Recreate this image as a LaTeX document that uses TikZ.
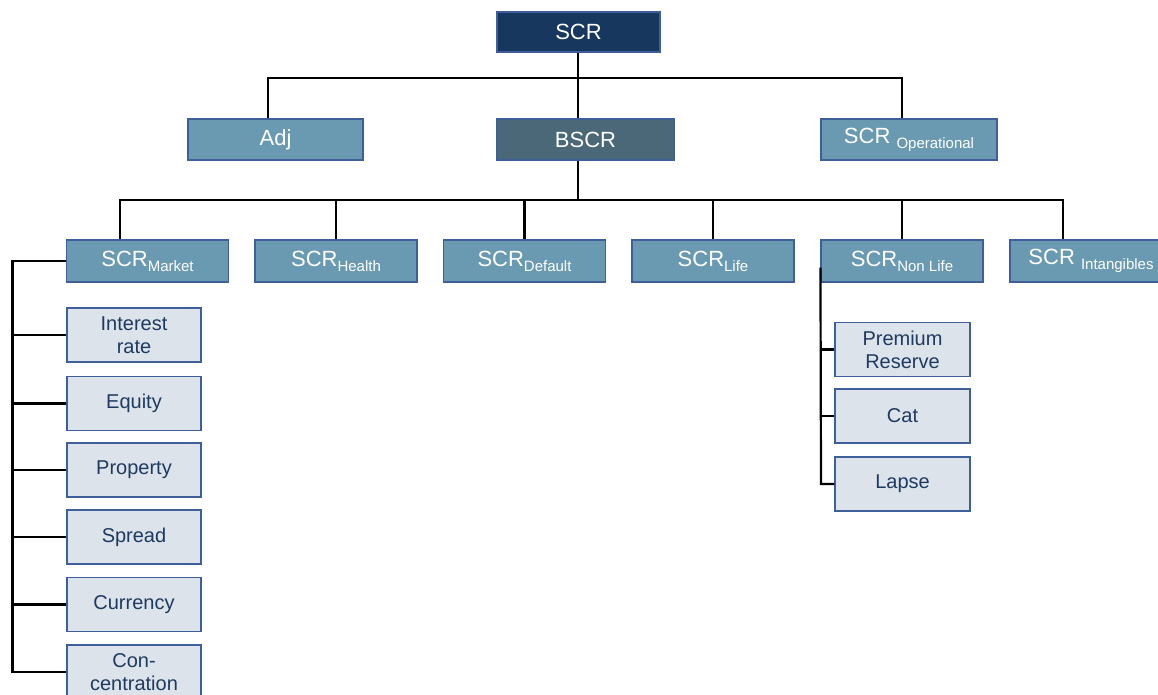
\documentclass[tikz,border=0pt]{standalone}
\usepackage{fontspec}
\setmainfont{Liberation Sans}
\definecolor{navy}{HTML}{17375E}
\definecolor{slate}{HTML}{4B6878}
\definecolor{midblue}{HTML}{6A9AB1}
\definecolor{lightbox}{HTML}{DCE3EA}
\definecolor{edge}{HTML}{3F5F9A}
\definecolor{darktext}{HTML}{1F3A60}
\newcommand{\subtx}[1]{\raisebox{-5pt}{\fontsize{15}{15}\selectfont #1}}
\tikzset{
  box/.style={draw=edge, line width=1.1pt, inner sep=0pt, text=white,
    font=\fontsize{22}{24}\selectfont, minimum height=41pt, minimum width=162pt},
  subbox/.style={draw=edge, line width=1.1pt, inner sep=0pt, fill=lightbox, text=darktext,
    font=\fontsize{20}{23}\selectfont, align=center, minimum height=54pt, minimum width=134pt},
  conn/.style={draw=black, line width=2.2pt}
}
\begin{document}
\begin{tikzpicture}[x=1pt,y=-1pt]
\useasboundingbox (0,0) rectangle (1158,694);
% bus coordinates
\coordinate (b1) at (578,78);
\coordinate (adjdrop) at (268,78);
\coordinate (opsdrop) at (902,78);
\coordinate (b2) at (578,200);
\coordinate (mdrop) at (120,200);
\coordinate (idrop) at (1063,200);
\coordinate (lbus) at (12.5,672);
\coordinate (nlbus) at (821,484);
% top level
\node[box, fill=navy, minimum width=163pt, minimum height=40pt] (scr) at (578.5,32) {SCR};
\node[box, fill=midblue, minimum width=175pt] (adj) at (275.5,139.5) {Adj};
\node[box, fill=slate, minimum width=177pt] (bscr) at (585.5,139.5) {BSCR};
\node[box, fill=midblue, minimum width=176pt] (ops) at (909,139.5) {SCR \subtx{Operational}};
% third level
\node[box, fill=midblue, minimum height=42pt] (market) at (147.5,261) {SCR\subtx{Market}};
\node[box, fill=midblue, minimum height=42pt] (health) at (336,261) {SCR\subtx{Health}};
\node[box, fill=midblue, minimum height=42pt] (default) at (524.5,261) {SCR\subtx{Default}};
\node[box, fill=midblue, minimum height=42pt] (life) at (713,261) {SCR\subtx{Life}};
\node[box, fill=midblue, minimum height=42pt] (nonlife) at (902,261) {SCR\subtx{Non Life}};
\node[box, fill=midblue, minimum height=42pt] (intang) at (1091,261) {SCR \subtx{Intangibles}};
% market sub-boxes
\node[subbox] (ir) at (134,335) {Interest\\rate};
\node[subbox] (eq) at (134,403.5) {Equity};
\node[subbox] (prop) at (134,470) {Property};
\node[subbox] (spread) at (134,537) {Spread};
\node[subbox] (cur) at (134,604.5) {Currency};
\node[subbox] (conc) at (134,672) {Con-\\centration};
% non life sub-boxes
\node[subbox, minimum width=135pt] (prem) at (902.5,349.5) {Premium\\Reserve};
\node[subbox, minimum width=135pt] (cat) at (902.5,416) {Cat};
\node[subbox, minimum width=135pt] (lapse) at (902.5,484) {Lapse};
% top connectors
\draw[conn] (scr.south -| b1) -- (b1);
\draw[conn] (adjdrop |- adj.north) -- (adjdrop) -- (opsdrop) -- (opsdrop |- ops.north);
\draw[conn] (b1) -- (b1 |- bscr.north);
\draw[conn] (b1 |- bscr.south) -- (b2);
\draw[conn] (mdrop |- market.north) -- (mdrop) -- (idrop) -- (idrop |- intang.north);
\draw[conn] (health.north) -- (health.north |- b2);
\draw[conn] (default.north) -- (default.north |- b2);
\draw[conn] (life.north) -- (life.north |- b2);
\draw[conn] (nonlife.north) -- (nonlife.north |- b2);
% market column
\draw[conn] (market.west) -| (lbus) -- (conc.west);
\foreach \n in {ir,eq,prop,spread,cur} \draw[conn] (\n.west) -- (\n.west -| lbus);
% non life column
\draw[conn] ([yshift=15pt]nonlife.south west) -- (nlbus) -- (lapse.west);
\foreach \n in {prem,cat} \draw[conn] (\n.west) -- (\n.west -| nlbus);
\end{tikzpicture}
\end{document}
